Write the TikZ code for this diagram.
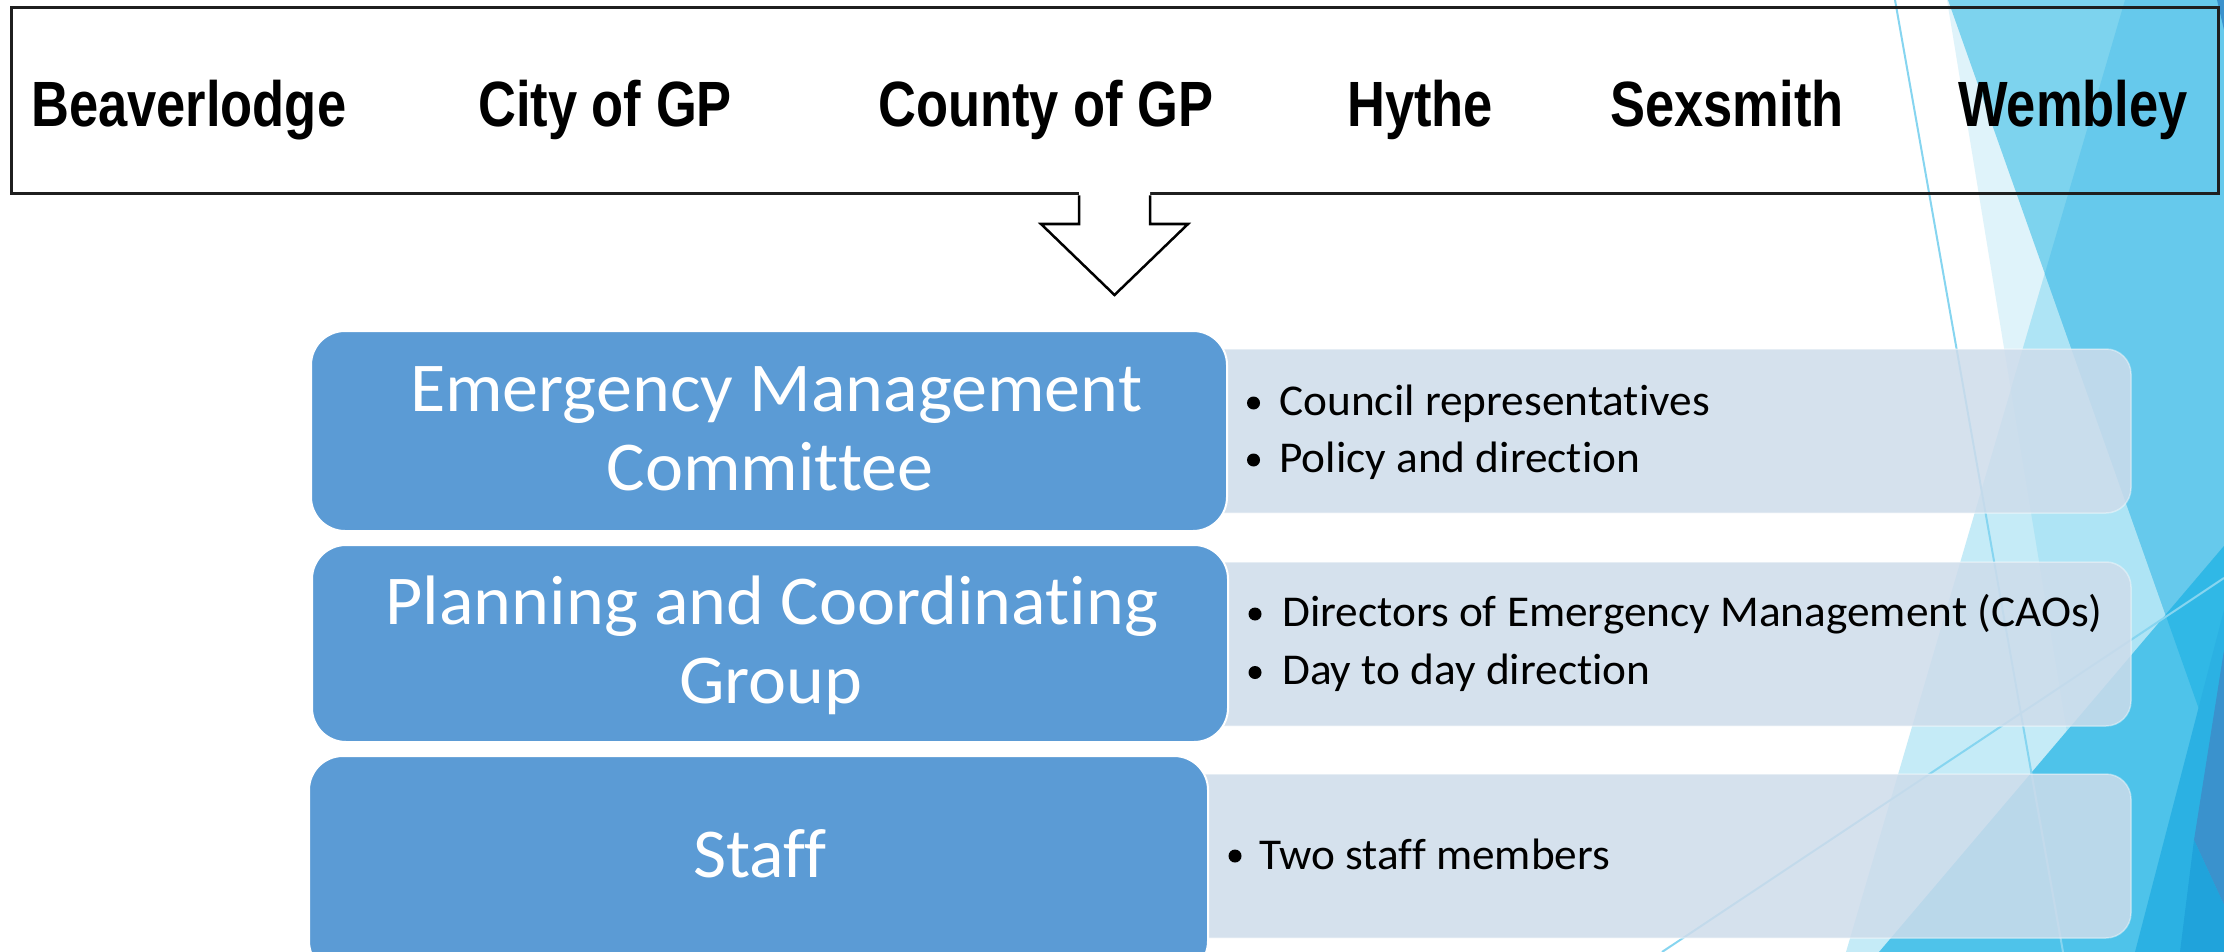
\documentclass[tikz,border=0pt]{standalone}
\usepackage{fontspec}
\setmainfont{Carlito}[Ligatures=NoCommon, FakeStretch=1.03]
\newfontfamily\topfont{Liberation Sans}[FakeStretch=0.82]
\definecolor{blueBox}{HTML}{5B9BD5}
\definecolor{lightFill}{HTML}{CEDCEB}
\definecolor{facetVL}{HTML}{DFF3FA}
\definecolor{facetB}{HTML}{C5EBF7}
\definecolor{facetBE}{HTML}{AEE4F5}
\definecolor{facetA}{HTML}{7DD3EE}
\definecolor{facetAB}{HTML}{66C9EC}
\definecolor{facetD}{HTML}{4EC3EA}
\definecolor{facetAD}{HTML}{30B8E6}
\definecolor{facetG}{HTML}{2BB1E3}
\definecolor{facetW}{HTML}{3A92CD}
\definecolor{facetH}{HTML}{20A3DB}
\definecolor{thinLine}{HTML}{86D5F0}
\tikzset{
  toplabel/.style={anchor=base west, inner sep=0pt, font=\topfont\bfseries\fontsize{64}{77}\selectfont},
  topframe/.style={draw=black!88, line width=3pt, inner sep=0pt},
  bluebox/.style={fill=blueBox, draw=white, line width=2pt, rounded corners=34pt, inner sep=0pt},
  lightbox/.style={fill=lightFill, fill opacity=0.85, draw=white, draw opacity=0.4, line width=1.5pt, rounded corners=25pt, inner sep=0pt},
  bigtext/.style={anchor=base, text=white, inner sep=0pt, font=\fontsize{70}{84}\selectfont},
  bullettext/.style={anchor=base west, inner sep=0pt, text=black, font=\fontsize{44}{53}\selectfont},
  facetline/.style={draw=thinLine, line width=2pt},
  blockarrow/.style={draw=black, line width=2.5pt, line join=miter},
}
\begin{document}
\begin{tikzpicture}[x=1pt,y=-1pt]
\useasboundingbox (0,0) rectangle (2224,952);
\clip (0,0) rectangle (2224,952);
\fill[white] (0,0) rectangle (2224,952);
% background facets
\fill[facetVL] (1947,0) -- (2224,0) -- (2224,952) -- (2103,952) -- cycle;
\fill[facetB] (2125,0) -- (2224,0) -- (2224,952) -- (1846,952) -- cycle;
\begin{scope}
  \clip (1947,0) -- (2224,0) -- (2224,952) -- (2103,952) -- cycle;
  \fill[facetBE] (2125,0) -- (2224,0) -- (2224,952) -- (1846,952) -- cycle;
\end{scope}
\fill[facetA] (1948,0) -- (2224,0) -- (2224,780) -- cycle;
\begin{scope}
  \clip (2125,0) -- (2224,0) -- (2224,952) -- (1846,952) -- cycle;
  \fill[facetAB] (1948,0) -- (2224,0) -- (2224,780) -- cycle;
\end{scope}
\fill[facetD] (2224,546) -- (2224,952) -- (1879,952) -- cycle;
\begin{scope}
  \clip (1948,0) -- (2224,0) -- (2224,780) -- cycle;
  \fill[facetAD] (2224,546) -- (2224,952) -- (1879,952) -- cycle;
\end{scope}
\fill[facetG] (2224,610) -- (2224,952) -- (2135,952) -- cycle;
\fill[facetW] (2224,650) -- (2194,840) -- (2224,905) -- cycle;
\fill[facetH] (2194,840) -- (2224,905) -- (2224,952) -- (2180,952) -- cycle;
\fill[facetW] (2217,0) -- (2224,0) -- (2224,30) -- cycle;
\draw[facetline] (1895,0) -- (2063,952);
\draw[facetline] (2224,578) -- (1662,952);

% top frame with municipalities
\node[topframe, minimum width=2207pt, minimum height=186pt] (top) at (1114.5,101) {};
\node[toplabel] (beav) at (31,127) {Beaverlodge};
\node[toplabel] (city) at (478,127) {City of GP};
\node[toplabel] (county) at (878,127) {County of GP};
\node[toplabel] (hythe) at (1347,127) {Hythe};
\node[toplabel] (sex) at (1610,127) {Sexsmith};
\node[toplabel] (wem) at (1958,127) {Wembley};

% block arrow
\fill[white] (1079,190) -- (1079,224) -- (1041,224) -- (1114.5,295) -- (1188,224) -- (1150,224) -- (1150,190) -- cycle;
\draw[blockarrow] (1079,195.5) -- (1079,224) -- (1041,224) -- (1114.5,295) -- (1188,224) -- (1150,224) -- (1150,195.5);

% light boxes
\node[lightbox, minimum width=981pt, minimum height=164pt] (l1) at (1640.5,431) {};
\node[lightbox, minimum width=981pt, minimum height=164pt] (l2) at (1640.5,644) {};
\node[lightbox, minimum width=981pt, minimum height=164pt] (l3) at (1640.5,856) {};

% blue boxes
\node[bluebox, minimum width=916pt, minimum height=200pt] (b1) at (769,431) {};
\node[bluebox, minimum width=916pt, minimum height=197pt] (b2) at (770,643.5) {};
\node[bluebox, minimum width=899pt, minimum height=219pt] (b3) at (758.5,865.5) {};

% blue box texts
\node[bigtext] (t1a) at (776,411) {Emergency Management};
\node[bigtext] (t1b) at (770,490) {Committee};
\node[bigtext] (t2a) at (772,624) {Planning and Coordinating};
\node[bigtext] (t2b) at (771,703) {Group};
\node[bigtext] (t3) at (760,877) {Staff};

% bullets
\node[bullettext] (c1) at (1279,415) {Council representatives};
\node[bullettext] (c2) at (1279,472) {Policy and direction};
\node[bullettext] (d1) at (1282,626.5) {Directors of Emergency Management (CAOs)};
\node[bullettext] (d2) at (1282,684.5) {Day to day direction};
\node[bullettext] (s1) at (1259,869) {Two staff members};
\fill (1253.5,403) circle (6.5pt);
\fill (1253.5,460) circle (6.5pt);
\fill (1255,614) circle (6.5pt);
\fill (1255,672.5) circle (6.5pt);
\fill (1235,856) circle (6.5pt);
\end{tikzpicture}
\end{document}
